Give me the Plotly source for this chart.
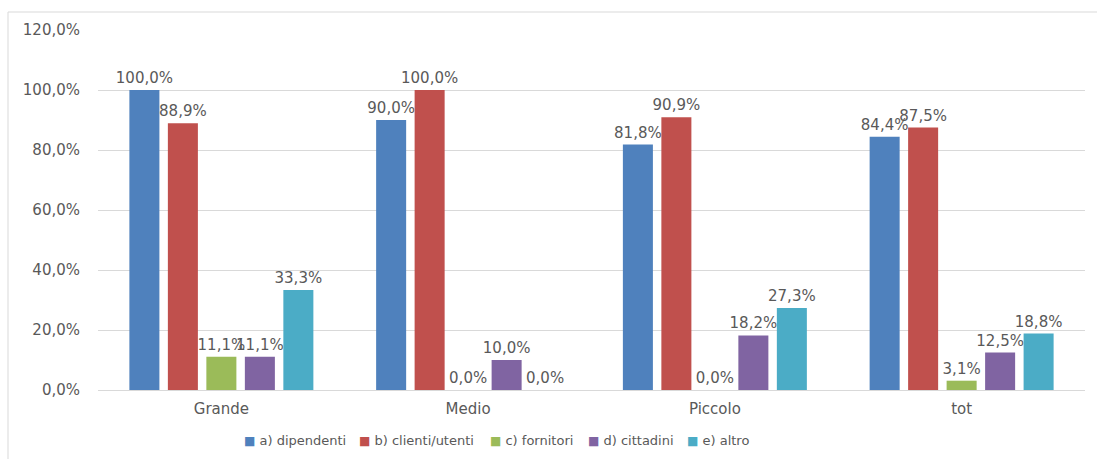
import plotly.graph_objects as go

# Categories on the x axis
categories = ["Grande", "Medio", "Piccolo", "tot"]

# Series (percentage values per category)
series_names = ["a) dipendenti", "b) clienti/utenti", "c) fornitori", "d) cittadini", "e) altro"]
dipendenti = [100.0, 90.0, 81.8, 84.4]
clienti_utenti = [88.9, 100.0, 90.9, 87.5]
fornitori = [11.1, 0.0, 0.0, 3.1]
cittadini = [11.1, 10.0, 18.2, 12.5]
altro = [33.3, 0.0, 27.3, 18.8]

# Y axis ticks
y_ticks = [0, 20, 40, 60, 80, 100, 120]

series_values = [dipendenti, clienti_utenti, fornitori, cittadini, altro]
colors = ["#4F81BD", "#C0504D", "#9BBB59", "#8064A2", "#4BACC6"]

FONT = "DejaVu Sans"
GRAY = "#595959"
GRID = "#D9D9D9"

# plot area in pixels (for placing paper-referenced items)
PL, PR, PT, PB = 98, 1085, 30, 390


def fmt(v):
    return f"{v:.1f}".replace(".", ",") + "%"


def px_x(px):
    return (px - PL) / (PR - PL)


def px_y(py):
    return (PB - py) / (PB - PT)


fig = go.Figure()
for name, vals, col in zip(series_names, series_values, colors):
    fig.add_trace(go.Bar(
        x=categories,
        y=vals,
        name=name,
        marker=dict(color=col, line=dict(width=0)),
        text=[fmt(v) for v in vals],
        textposition="outside",
        constraintext="none",
        cliponaxis=False,
        textfont=dict(family=FONT, size=15, color=GRAY),
        hoverinfo="skip",
        showlegend=False,
    ))

# legend row drawn as text entries with coloured square markers
legend_left_px = [242, 357, 488, 586, 685]
annotations = []
for name, col, lx in zip(series_names, colors, legend_left_px):
    annotations.append(dict(
        xref="paper", yref="paper",
        x=px_x(lx), y=px_y(440),
        xanchor="left", yanchor="middle",
        showarrow=False,
        text=f"<span style='color:{col};font-size:12px'>■</span> {name}",
        font=dict(family=FONT, size=13, color=GRAY),
    ))

fig.update_layout(
    width=1097,
    height=459,
    margin=dict(l=PL, r=1097 - PR, t=PT, b=459 - PB),
    paper_bgcolor="white",
    plot_bgcolor="white",
    barmode="group",
    bargap=0.22,
    bargroupgap=0.22,
    showlegend=False,
    annotations=annotations,
    xaxis=dict(
        showgrid=False,
        showline=False,
        ticks="",
        tickfont=dict(family=FONT, size=15, color=GRAY),
        ticklabelstandoff=8,
    ),
    yaxis=dict(
        range=[0, 120],
        tickvals=y_ticks,
        ticktext=[fmt(v) for v in y_ticks],
        showgrid=True,
        gridcolor=GRID,
        gridwidth=1,
        zeroline=True,
        zerolinecolor=GRID,
        zerolinewidth=1,
        showline=False,
        ticks="",
        tickfont=dict(family=FONT, size=15, color=GRAY),
        ticklabelstandoff=17,
    ),
    shapes=[dict(
        type="rect",
        xref="paper", yref="paper",
        x0=px_x(8), x1=1.2,
        y0=-0.5, y1=px_y(12),
        line=dict(color=GRID, width=1),
        fillcolor="rgba(0,0,0,0)",
        layer="below",
    )],
)

fig.write_html("out.html")
